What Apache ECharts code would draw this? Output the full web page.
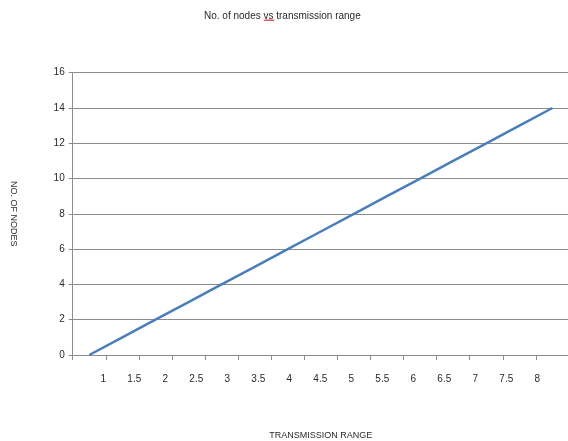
<!DOCTYPE html>
<html>
<head>
<meta charset="utf-8">
<script src="https://cdn.jsdelivr.net/npm/echarts@6/dist/echarts.min.js"></script>
<style>
  html, body { margin: 0; padding: 0; background: #fff; }
  #chart { width: 568px; height: 441px; }
</style>
</head>
<body>
<div id="chart"></div>
<script>
// Transmission range categories and the node count at each range
const rangeLabels = ['1', '1.5', '2', '2.5', '3', '3.5', '4', '4.5', '5', '5.5', '6', '6.5', '7', '7.5', '8'];
const nodeCounts = [0, 1, 2, 3, 4, 5, 6, 7, 8, 9, 10, 11, 12, 13, 14];
const yTicks = { min: 0, max: 16, step: 2 };

const FONT = '"Liberation Sans", Arial, sans-serif';
const GRID_COLOR = '#8c8c8c';
const TEXT_COLOR = '#2a2a2a';

const chart = echarts.init(document.getElementById('chart'), null, { renderer: 'canvas' });

// small red spell-check squiggle under "vs" in the title
const squiggle = [];
for (let i = 0; i <= 10; i++) {
  squiggle.push([264 + i, i % 2 === 0 ? 19.5 : 21]);
}

chart.setOption({
  animation: false,
  backgroundColor: '#ffffff',
  title: {
    text: 'No. of nodes vs transmission range',
    left: 199,
    top: 6,
    textStyle: { fontFamily: FONT, fontSize: 10, fontWeight: 'normal', color: TEXT_COLOR }
  },
  graphic: [{
    type: 'polyline',
    shape: { points: squiggle },
    style: { stroke: '#e03a3a', lineWidth: 1, fill: null },
    silent: true
  }],
  grid: [
    // plot area
    { left: 72.7, right: -1, top: 72.7, bottom: 86, outerBoundsMode: 'none', containLabel: false },
    // label strip under the category axis
    { left: 87.8, right: 15.2, top: 72.7, bottom: 86, outerBoundsMode: 'none', containLabel: false }
  ],
  xAxis: [{
    type: 'category',
    gridIndex: 0,
    data: rangeLabels,
    boundaryGap: true,
    name: 'TRANSMISSION RANGE',
    nameLocation: 'middle',
    nameGap: 76,
    nameTextStyle: { fontFamily: FONT, fontSize: 9, color: TEXT_COLOR },
    axisLine: { show: true, lineStyle: { color: GRID_COLOR, width: 1 } },
    axisTick: { show: true, length: 5, alignWithLabel: false, lineStyle: { color: GRID_COLOR } },
    axisLabel: { show: false },
    splitLine: { show: false }
  }, {
    type: 'category',
    gridIndex: 1,
    data: rangeLabels,
    boundaryGap: true,
    axisLine: { show: false },
    axisTick: { show: false },
    axisLabel: {
      show: true,
      interval: 0,
      margin: 19,
      fontFamily: FONT,
      fontSize: 10,
      color: TEXT_COLOR
    },
    splitLine: { show: false }
  }],
  yAxis: [{
    type: 'value',
    gridIndex: 0,
    min: yTicks.min,
    max: yTicks.max,
    interval: yTicks.step,
    name: 'NO. OF NODES',
    nameLocation: 'middle',
    nameRotate: -90,
    nameGap: 55,
    nameTextStyle: { fontFamily: FONT, fontSize: 9, color: TEXT_COLOR },
    axisLine: { show: true, lineStyle: { color: GRID_COLOR, width: 1 } },
    axisTick: { show: true, length: 4, lineStyle: { color: GRID_COLOR } },
    axisLabel: { margin: 8, fontFamily: FONT, fontSize: 10, color: TEXT_COLOR },
    splitLine: { show: true, lineStyle: { color: GRID_COLOR, width: 1 } }
  }, {
    type: 'value',
    gridIndex: 1,
    show: false,
    min: yTicks.min,
    max: yTicks.max
  }],
  series: [{
    type: 'line',
    xAxisIndex: 0,
    yAxisIndex: 0,
    data: nodeCounts,
    symbol: 'none',
    lineStyle: { color: '#4a7ebb', width: 2.5 },
    itemStyle: { color: '#4a7ebb' }
  }]
});
</script>
</body>
</html>
